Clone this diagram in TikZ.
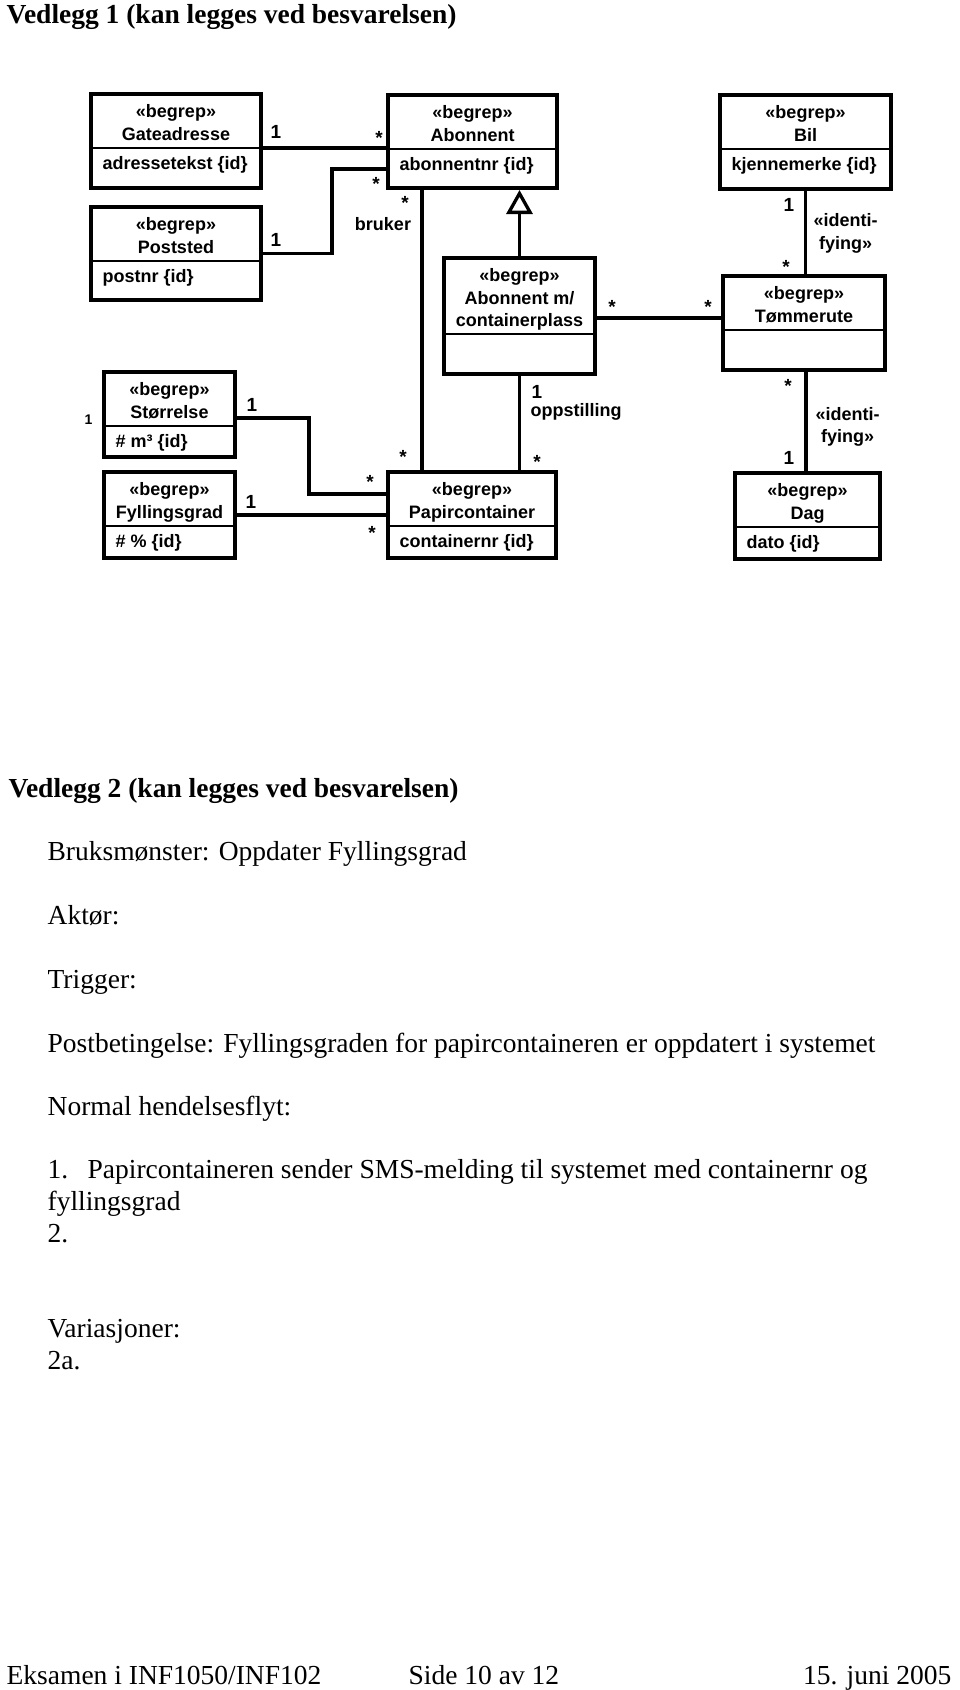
\documentclass[tikz,border=0pt]{standalone}
\usepackage{fontspec}
\setmainfont{Liberation Serif}
\newfontfamily\umlfont{Liberation Sans}
\usepackage{tikz}
\usetikzlibrary{arrows.meta}

\newcommand\umltekst{\umlfont\bfseries\fontsize{18pt}{22.5pt}\selectfont}
\newcommand\multtekst{\umlfont\bfseries\fontsize{19pt}{22pt}\selectfont}
\newcommand\brodtekst{\fontsize{27.5pt}{32pt}\selectfont}

\tikzset{
  klasse/.style={draw, anchor=north west, inner sep=0pt, outer sep=0pt},
  skille/.style={path picture={\draw[line width=1.4pt]
      ([yshift=-#1]path picture bounding box.north west) --
      ([yshift=-#1]path picture bounding box.north east);}},
  skille/.default=54pt,
  hode/.style={anchor=north, align=center, font=\umltekst, inner sep=0pt, yshift=-9pt},
  attr/.style={anchor=base west, font=\umltekst, inner sep=0pt, xshift=10pt, yshift=-75pt},
  liten/.style={font=\umlfont\bfseries\fontsize{14pt}{16pt}\selectfont, inner sep=0pt},
  mult/.style={font=\multtekst, inner sep=0pt, anchor=base},
  rolle/.style={font=\umltekst, inner sep=0pt, align=center},
  tekst/.style={font=\brodtekst, inner sep=0pt, anchor=base west},
  arv/.style={-{Triangle[open, length=24pt, width=26pt]}, shorten >=2pt},
}

\begin{document}
\begin{tikzpicture}[x=1pt, y=-1pt,
            line width=3.3pt]

        \useasboundingbox (0,0) rectangle (960,1690);

        % Vedlegg 1
        \node[tekst, font=\brodtekst\bfseries] (vedlegg1) at (5,23.5) {Vedlegg 1 (kan legges ved besvarelsen)};

        \node[klasse, skille, minimum width=170pt, minimum height=94pt,
              label={[hode]north:«begrep»\\Gateadresse},
              label={[attr]north west:adressetekst \{id\}}] (gate) at (91,94) {};
        \node[klasse, skille, minimum width=170pt, minimum height=93pt,
              label={[hode]north:«begrep»\\Poststed},
              label={[attr]north west:postnr \{id\}}] (post) at (91,207) {};
        \node[klasse, skille, minimum width=169pt, minimum height=93pt,
              label={[hode]north:«begrep»\\Abonnent},
              label={[attr]north west:abonnentnr \{id\}}] (abo) at (388,95) {};
        \node[klasse, skille=76pt, minimum width=151pt, minimum height=116pt,
              label={[hode]north:«begrep»\\Abonnent m/\\containerplass}] (abom) at (444,258) {};
        \node[klasse, skille, minimum width=171pt, minimum height=94pt,
              label={[hode]north:«begrep»\\Bil},
              label={[attr]north west:kjennemerke \{id\}}] (bil) at (720,95) {};
        \node[klasse, skille, minimum width=162pt, minimum height=94pt,
              label={[hode]north:«begrep»\\Tømmerute}] (tom) at (723,276) {};
        \node[klasse, skille, minimum width=131pt, minimum height=85pt,
              label={[hode]north:«begrep»\\Størrelse},
              label={[attr]north west:\# m³ \{id\}},
              label={[liten, xshift=-10pt, yshift=-5.5pt]west:1}] (stor) at (104,372) {};
        \node[klasse, skille, minimum width=131pt, minimum height=86pt,
              label={[hode]north:«begrep»\\Fyllingsgrad},
              label={[attr]north west:\# \% \{id\}}] (fyll) at (104,472) {};
        \node[klasse, skille, minimum width=168pt, minimum height=86pt,
              label={[hode]north:«begrep»\\Papircontainer},
              label={[attr]north west:containernr \{id\}}] (papir) at (388,472) {};
        \node[klasse, skille, minimum width=145pt, minimum height=86pt,
              label={[hode]north:«begrep»\\Dag},
              label={[attr]north west:dato \{id\}}] (dag) at (735,473) {};

        \draw ([yshift=-7pt]gate.east) -- ([yshift=-7pt]gate.east -| abo.west)
              node[mult, at start, xshift=15pt, yshift=9.5pt] {1}
              node[mult, at end, xshift=-9pt, yshift=4pt] {*};
        \draw (post.east) -- node[mult, at start, xshift=15pt, yshift=7pt] {1} ++(71,0)
              |- node[mult, at end, xshift=-12pt, yshift=-21pt] {*} ([yshift=-27.5pt]abo.west);
        \draw ([xshift=-50.5pt]abo.south) -- ([xshift=-50.5pt]abo.south |- papir.north)
              node[mult, at start, xshift=-17pt, yshift=-21pt] {*}
              node[rolle, at start, xshift=-39pt, yshift=-36pt] {bruker}
              node[mult, at end, xshift=-19pt, yshift=9pt] {*};
        \draw[arv] (abom.north) -- (abom.north |- abo.south);
        \draw ([yshift=-2pt]abom.east) -- ([yshift=-2pt]abom.east -| tom.west)
              node[mult, at start, xshift=17pt, yshift=5pt] {*}
              node[mult, at end, xshift=-15pt, yshift=5pt] {*};
        \draw (bil.south) -- (bil.south |- tom.north)
              node[mult, at start, xshift=-16.5pt, yshift=-22.5pt] {1}
              node[mult, at end, xshift=-19.5pt, yshift=3pt] {*}
              node[rolle, midway, anchor=west, xshift=6.5pt, yshift=-1pt] {«identi-\\fying»};
        \draw ([xshift=2pt]tom.south) -- ([xshift=2pt]tom.south |- dag.north)
              node[mult, at start, xshift=-18pt, yshift=-22pt] {*}
              node[mult, at end, xshift=-17pt, yshift=8.5pt] {1}
              node[rolle, midway, anchor=west, xshift=8pt, yshift=-5.5pt] {«identi-\\fying»};
        \draw (abom.south) -- (abom.south |- papir.north)
              node[mult, at start, xshift=17.5pt, yshift=-24.5pt] {1}
              node[rolle, at start, anchor=west, xshift=9.5pt, yshift=-38pt] {oppstilling}
              node[mult, at end, xshift=17.5pt, yshift=4pt] {*};
        \draw ([yshift=-3.5pt]stor.east) -- node[mult, at start, xshift=17pt, yshift=6.5pt] {1} ++(74,0)
              |- node[mult, at end, xshift=-18pt, yshift=6pt] {*} ([yshift=21pt]papir.west);
        \draw (fyll.east) -- (papir.west)
              node[mult, at start, xshift=16pt, yshift=6.5pt] {1}
              node[mult, at end, xshift=-16pt, yshift=-24pt] {*};

        % Vedlegg 2
        \node[tekst, font=\brodtekst\bfseries] (vedlegg2) at (7,797) {Vedlegg 2 (kan legges ved besvarelsen)};
        \node[tekst] (bruk)      at (46,860)  {Bruksmønster: Oppdater Fyllingsgrad};
        \node[tekst] (aktor)     at (46,924)  {Aktør:};
        \node[tekst] (trigger)   at (46,988)  {Trigger:};
        \node[tekst] (postbet)   at (46,1052) {Postbetingelse: Fyllingsgraden for papircontaineren er oppdatert i systemet};
        \node[tekst] (normal)    at (46,1115) {Normal hendelsesflyt:};
        \node[tekst] (steg1)     at (46,1178) {1.\hspace{19.4pt}Papircontaineren sender SMS-melding til systemet med containernr og};
        \node[tekst] (steg1b)    at (46,1210) {fyllingsgrad};
        \node[tekst] (steg2)     at (46,1242) {2.};
        \node[tekst] (variasjon) at (46,1337) {Variasjoner:};
        \node[tekst] (var2a)     at (46,1369) {2a.};

        \node[tekst] (fot1) at (5,1684) {Eksamen i INF1050/INF102};
        \node[tekst] (fot2) at (407,1684) {Side 10 av 12};
        \node[tekst, anchor=base east] (fot3) at (953,1684) {15. juni 2005};

    \end{tikzpicture}
\end{document}
